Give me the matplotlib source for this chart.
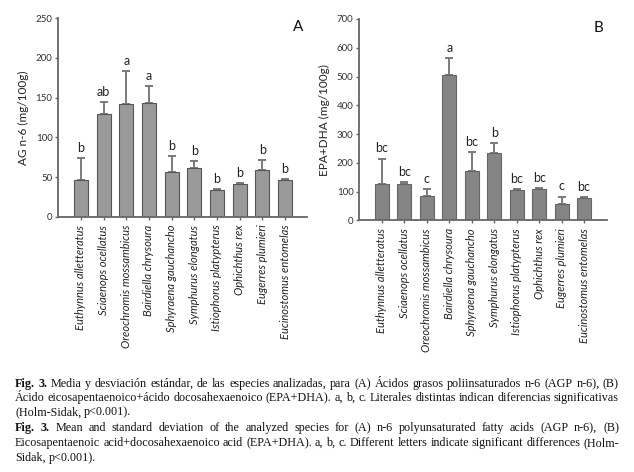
import matplotlib
matplotlib.use("Agg")
import matplotlib.pyplot as plt
import numpy as np

species = ["Euthynnus alletteratus", "Sciaenops ocellatus", "Oreochromis mossambicus",
           "Bairdiella chrysoura", "Sphyraena gauchancho", "Symphurus elongatus",
           "Istiophorus platypterus", "Ophichthus rex", "Eugerres plumieri",
           "Eucinostomus entomelas"]

agn6_mean = [46, 130, 142, 143, 56, 62, 34, 41, 59, 46]
agn6_sd = [28, 14, 41, 21, 21, 8, 1.5, 1.5, 12, 1.5]
agn6_letters = ["b", "ab", "a", "a", "b", "b", "b", "b", "b", "b"]

epa_mean = [128, 128, 85, 507, 172, 233, 105, 108, 58, 78]
epa_sd = [87, 5, 25, 58, 66, 37, 3, 4, 25, 2]
epa_letters = ["bc", "bc", "c", "a", "bc", "b", "bc", "bc", "c", "bc"]

yticks_a = [0, 50, 100, 150, 200, 250]
yticks_b = [0, 100, 200, 300, 400, 500, 600, 700]

caption_lines = [
    ("Fig. 3. Media y desviación estándar, de las especies analizadas, para (A) Ácidos grasos poliinsaturados n-6 (AGP n-6), (B)", True, True),
    ("Ácido eicosapentaenoico+ácido docosahexaenoico (EPA+DHA). a, b, c. Literales distintas indican diferencias significativas", True, False),
    ("(Holm-Sidak, p<0.001).", False, False),
    ("Fig. 3. Mean and standard deviation of the analyzed species for (A) n-6 polyunsaturated fatty acids (AGP n-6), (B)", True, True),
    ("Eicosapentaenoic acid+docosahexaenoico acid (EPA+DHA). a, b, c. Different letters indicate significant differences (Holm-", True, False),
    ("Sidak, p<0.001).", False, False),
]

W, H = 634, 472
fig = plt.figure(figsize=(W / 100, H / 100), dpi=100)
SANS = ["Lato", "DejaVu Sans"]
SERIF = ["Liberation Serif", "DejaVu Serif"]
axcol = "#666666"


def make_axes(left, right, top, bottom):
    return fig.add_axes([left / W, 1 - bottom / H, (right - left) / W, (bottom - top) / H])


def draw_panel(ax, means, sds, letters, yticks, ylabel, panel, xlim, barcol, edgecol):
    x = np.arange(len(means))
    ax.bar(x, means, width=0.62, color=barcol, edgecolor=edgecol, linewidth=0.8, zorder=2)
    ax.errorbar(x, means, yerr=[np.zeros(len(sds)), sds], fmt="none", ecolor="#7a7a7a",
                elinewidth=1.4, capsize=3.2, capthick=1.4, zorder=1)
    for xi, m, s, l in zip(x, means, sds, letters):
        ax.annotate(l, (xi, m + s), xytext=(0, 3), textcoords="offset points",
                    ha="center", va="bottom", fontsize=9, family=SANS, color="#222222")
    ax.set_xlim(*xlim)
    ax.set_ylim(yticks[0], yticks[-1])
    ax.set_yticks(yticks)
    ax.set_yticklabels([str(t) for t in yticks], family=SANS, fontsize=7, color="#333333")
    ax.set_xticks(x)
    ax.set_xticklabels(species, rotation=90, style="italic", family=SANS, fontsize=8,
                       color="#222222")
    ax.set_ylabel(ylabel, family=SANS, fontsize=8.5, color="#222222", labelpad=5)
    for s in ["top", "right"]:
        ax.spines[s].set_visible(False)
    for s in ["left", "bottom"]:
        ax.spines[s].set_color(axcol)
        ax.spines[s].set_linewidth(1.3)
    ax.tick_params(axis="both", color=axcol, width=1.0, length=2.5, pad=1.5)
    ax.tick_params(axis="x", pad=3)
    ax.text(0.965, 0.955, panel, transform=ax.transAxes, ha="center", va="center",
            fontsize=11, family=SANS, color="#111111")


ax_a = make_axes(58, 307, 18, 217)
draw_panel(ax_a, agn6_mean, agn6_sd, agn6_letters, yticks_a, "AG n-6 (mg/100g)", "A",
           (-1.01, 9.97), "#9a9a9a", "#555555")
ax_b = make_axes(359, 607, 19, 220.5)
draw_panel(ax_b, epa_mean, epa_sd, epa_letters, yticks_b, "EPA+DHA (mg/100g)", "B",
           (-1.02, 10.02), "#858585", "#666666")

# Caption with justified lines
renderer = fig.canvas.get_renderer()
x0, x1 = 15, 619
ys = [384, 398, 412, 428, 443, 458]
fs = 8.7
sp = fig.text(0, 0, "a a", family=SERIF, fontsize=fs)
sp2 = fig.text(0, 0, "aa", family=SERIF, fontsize=fs)
space_w = sp.get_window_extent(renderer).width - sp2.get_window_extent(renderer).width
sp.remove(); sp2.remove()
for (line, justify, boldfig), yy in zip(caption_lines, ys):
    words = line.split(" ")
    texts = []
    for i, w in enumerate(words):
        weight = "bold" if (boldfig and i < 2) else "normal"
        t = fig.text(0, 1 - yy / H, w, family=SERIF, fontsize=fs, weight=weight,
                     va="center", ha="left", color="#111111")
        texts.append(t)
    widths = [t.get_window_extent(renderer).width for t in texts]
    if justify and len(words) > 1:
        gap = (x1 - x0 - sum(widths)) / (len(words) - 1)
        gap = max(gap, space_w * 0.5)
    else:
        gap = space_w
    cx = x0
    for t, w in zip(texts, widths):
        t.set_x(cx / W)
        cx += w + gap

fig.savefig("out.png", dpi=100)
